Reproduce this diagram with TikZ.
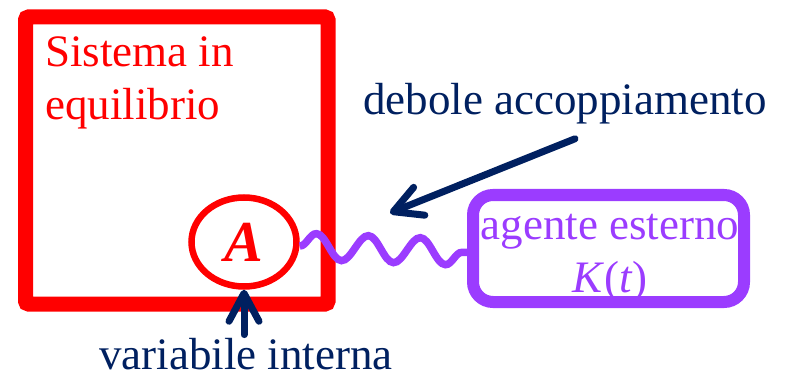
\documentclass[tikz,border=0pt]{standalone}
\usepackage{fontspec}
\setmainfont{Liberation Serif}
\usetikzlibrary{
    positioning,
    arrows.meta,
    shapes.geometric,
    decorations.pathmorphing,
}
\definecolor{sysred}{RGB}{255,0,0}
\definecolor{navy}{RGB}{0,32,96}
\definecolor{agentpurple}{RGB}{155,60,255}
\tikzset{
    % Text styles
    big text/.style={font=\fontsize{45}{53}\selectfont, inner sep=0pt},
    red text/.style={big text, text=sysred},
    navy text/.style={big text, text=navy},
    agent text/.style={big text, text=agentpurple},
    % Box styles
    sys box/.style={rectangle, draw=sysred, line width=15pt, rounded corners=3pt},
    agent box/.style={rectangle, draw=agentpurple, line width=12pt, rounded corners=20pt},
    var circle/.style={ellipse, draw=sysred, line width=6.5pt, inner sep=0pt},
    % Arrow styles
    pointer/.style={-{Straight Barb[length=28pt, width=30pt, round]}, line width=7pt, draw=navy, line cap=round},
    coupling/.style={draw=agentpurple, line width=7.5pt,
                     decorate, decoration={snake, segment length=52pt, amplitude=13pt}},
}

\begin{document}
\begin{tikzpicture}[x=1pt, y=-1pt]
    \useasboundingbox (0, 0) rectangle (789, 374);

    % System in equilibrium
    \node[sys box, minimum width=302.5pt, minimum height=287pt] (sistema) at (176.75, 160.5) {};
    \node[red text, align=left, anchor=base west] (titolo) at (45, 120) {Sistema in\\equilibrio};

    % Internal variable
    \node[var circle, minimum width=105pt, minimum height=89pt, text=sysred,
          font=\fontsize{58}{60}\selectfont\bfseries\itshape] (varA) at (244, 242) {A};

    % External agent
    \node[agent text, align=center] (agente) at (610, 258) {agente esterno\\\textit{K}(\textit{t})};
    \node[agent box, minimum width=271pt, minimum height=107pt] (agbox) at (608.5, 248.5) {};

    % Weak coupling
    \draw[coupling] ([yshift=-4pt]varA.east) -- ([yshift=-4pt]agbox.west);

    % Labels
    \node[navy text, anchor=base west] (debole) at (363, 115) {debole accoppiamento};
    \node[navy text, anchor=base] (variabile) at (246, 369) {variabile interna};
    \coordinate (couplept) at (390, 213);

    % Arrows
    \draw[pointer] ([xshift=10pt, yshift=-14pt]debole.south) -- (couplept);
    \draw[pointer] ([yshift=3pt]variabile.north -| varA) -- (varA.south);
\end{tikzpicture}
\end{document}
